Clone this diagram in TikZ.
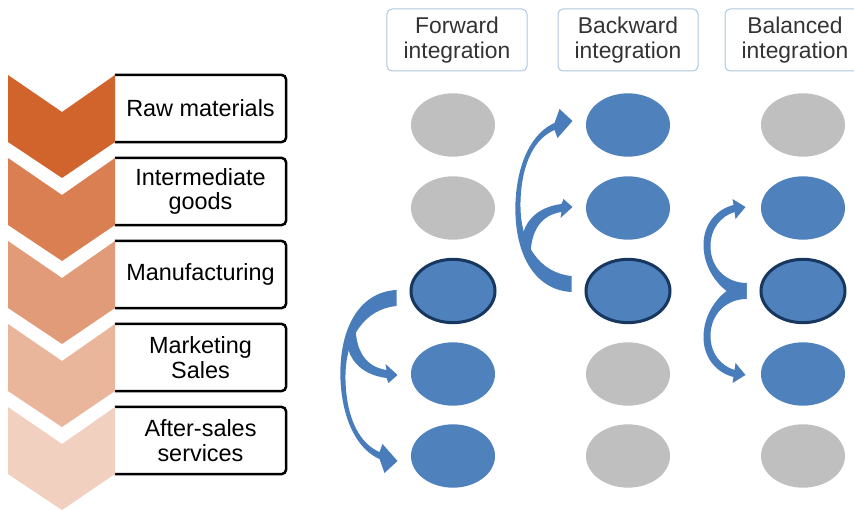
\documentclass[tikz,border=0pt]{standalone}
\usepackage{fontspec}
\setmainfont{Liberation Sans}
\usetikzlibrary{shapes.geometric}
\definecolor{rust}{RGB}{209,99,44}
\definecolor{stepblue}{RGB}{79,129,189}
\definecolor{arcblue}{RGB}{72,124,186}
\definecolor{rimblue}{RGB}{23,55,94}
\definecolor{dimgrey}{RGB}{191,191,191}
\definecolor{headline}{RGB}{175,198,221}
\definecolor{headtext}{RGB}{51,51,51}

\tikzstyle{stage} = [minimum width=5.13cm, minimum height=2.01cm, inner sep=0pt,
    align=center, font=\fontsize{20}{21}\selectfont]
\tikzstyle{stageline} = [draw=black, line width=0.75mm, rounded corners=1.5mm]
\tikzstyle{head} = [draw=headline, line width=0.3mm, rounded corners=1.5mm,
    minimum width=4.2cm, minimum height=1.86cm, inner sep=0pt, align=center,
    text=headtext, font=\fontsize{19.5}{22}\selectfont]
\tikzstyle{firm} = [ellipse, inner sep=0pt, minimum width=2.52cm, minimum height=1.9cm]
\tikzstyle{passive} = [firm, fill=dimgrey]
\tikzstyle{active} = [firm, fill=stepblue]
\tikzstyle{core} = [active, draw=rimblue, line width=0.9mm]

% chevron of the value chain, placed at the middle of its top edge
% curved block arrows, placed at the west side of the starting firm
\tikzset{
  chevron/.pic={
    \fill[#1] (-54,0) -- (0,37) -- (53,0) -- (53,67) -- (0,103) -- (-54,67) -- cycle;
  },
  fwdpair/.pic={
    \fill[arcblue] (-13,-1) .. controls (-51,1) and (-71,39) .. (-69,89)
      .. controls (-67,131) and (-51,159) .. (-30,168) -- (-25,182) -- (-12,170)
      -- (-27,153) -- (-30,161) .. controls (-49,153) and (-63,129) .. (-64,89)
      .. controls (-65,47) and (-45,18) .. (-13,15) -- cycle;
    \fill[arcblue] (-63,49) .. controls (-61,71) and (-46,84) .. (-23,87)
      -- (-21,92) -- (-12,84) -- (-24,73) -- (-23,79)
      .. controls (-43,76) and (-54,61) .. (-54,34) -- cycle;
  },
  halfloop/.pic={
    \fill[arcblue] (-13,8) .. controls (-30,8) and (-56,-15) .. (-56,-46)
      .. controls (-56,-68) and (-42,-82) .. (-26,-86) -- (-27,-92) -- (-14,-84)
      -- (-24,-72) -- (-25,-79) .. controls (-38,-75) and (-49,-63) .. (-49,-45)
      .. controls (-49,-22) and (-32,-8) .. (-13,-8) -- cycle;
  }
}

\begin{document}
\begin{tikzpicture}[x=0.03cm, y=-0.03cm]
    \useasboundingbox (0,0) rectangle (854,510);
    \clip (0,0) rectangle (854,510);

    % value chain
    \node [stage] (raw) at (200.5,108.5) {Raw materials};
    \node [stage] (inter) at (200.5,191.5) {Intermediate\\goods};
    \node [stage] (manu) at (200.5,274.5) {Manufacturing};
    \node [stage] (mark) at (200.5,357.5) {Marketing\\Sales};
    \node [stage] (after) at (200.5,440.5) {After-sales\\services};
    \foreach \s in {raw,inter,manu,mark,after}
        \draw [stageline] (\s.south west) -| (\s.north east) -- (\s.north west);

    \pic at (62,75) {chevron=rust};
    \pic at (62,158) {chevron=rust!82};
    \pic at (62,241) {chevron=rust!64};
    \pic at (62,324) {chevron=rust!47};
    \pic at (62,407) {chevron=rust!30};

    % column headers
    \node [head] (fwhead) at (457,40) {Forward\\integration};
    \node [head] (bwhead) at (628,40) {Backward\\integration};
    \node [head] (blhead) at (795,40) {Balanced\\integration};

    % forward integration
    \node [passive] (fw1) at (453,125) {};
    \node [passive] (fw2) at (453,208) {};
    \node [core] (fw3) at (453,291) {};
    \node [active] (fw4) at (453,374) {};
    \node [active] (fw5) at (453,456) {};

    % backward integration
    \node [active] (bw1) at (628,125) {};
    \node [active] (bw2) at (628,208) {};
    \node [core] (bw3) at (628,291) {};
    \node [passive] (bw4) at (628,374) {};
    \node [passive] (bw5) at (628,456) {};

    % balanced integration
    \node [passive] (bl1) at (803,125) {};
    \node [active] (bl2) at (803,208) {};
    \node [core] (bl3) at (803,291) {};
    \node [active] (bl4) at (803,374) {};
    \node [passive] (bl5) at (803,456) {};

    \pic at (fw3.west) {fwdpair};
    \pic [yscale=-1] at (bw3.west) {fwdpair};
    \pic at (bl3.west) {halfloop};
    \pic [yscale=-1] at (bl3.west) {halfloop};
\end{tikzpicture}
\end{document}
